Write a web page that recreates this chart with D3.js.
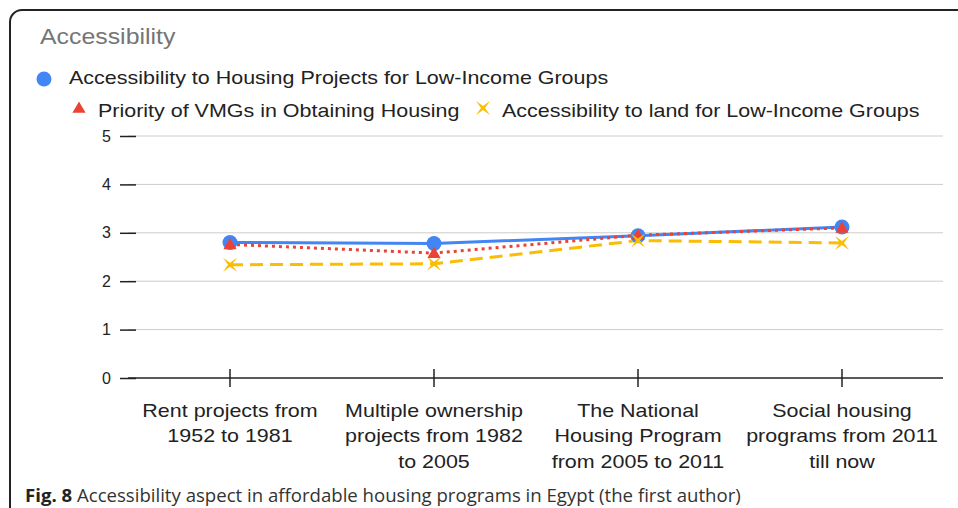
<!DOCTYPE html>
<html><head><meta charset="utf-8">
<script src="https://cdn.jsdelivr.net/npm/d3@7/dist/d3.min.js"></script>
<style>
html,body{margin:0;padding:0;background:#fff;}
svg{display:block;}
</style></head>
<body><svg id="c" width="958" height="508"></svg>
<script>
const title = "Accessibility";
const categories = [
  ["Rent projects from", "1952 to 1981"],
  ["Multiple ownership", "projects from 1982", "to 2005"],
  ["The National", "Housing Program", "from 2005 to 2011"],
  ["Social housing", "programs from 2011", "till now"]
];
const seriesNames = [
  "Accessibility to Housing Projects for Low-Income Groups",
  "Priority of VMGs in Obtaining Housing",
  "Accessibility to land for Low-Income Groups"
];
const housingValues = [2.80, 2.78, 2.94, 3.12];
const vmgValues = [2.76, 2.58, 2.95, 3.10];
const landValues = [2.34, 2.36, 2.84, 2.79];
const yTicks = [0, 1, 2, 3, 4, 5];
const caption = ["Fig. 8", " Accessibility aspect in affordable housing programs in Egypt (the first author)"];

const svg = d3.select("#c");
const font = "'Liberation Sans', Arial, sans-serif";
const SX = 1.13;

function stext(x0, y0, size, fill, str, anchor) {
  return svg.append("text").attr("transform", `translate(${x0},${y0}) scale(${SX},1)`)
    .attr("font-family", font).attr("font-size", size).attr("fill", fill)
    .attr("text-anchor", anchor || "start").text(str);
}

// frame
svg.append("rect").attr("x", 10).attr("y", 10).attr("width", 1000).attr("height", 600)
  .attr("rx", 12).attr("fill", "none").attr("stroke", "#222").attr("stroke-width", 2);

stext(40, 44, 22, "#757575", title);

const x = d3.scaleBand().domain(d3.range(categories.length)).range([128, 944]);
const y = d3.scaleLinear().domain([0, 5]).range([378, 136]);
const cx = i => x(i) + x.bandwidth() / 2;

// grid
svg.append("g").selectAll("line").data(yTicks.filter(t => t > 0)).join("line")
  .attr("x1", 128).attr("x2", 943).attr("y1", d => y(d)).attr("y2", d => y(d))
  .attr("stroke", "#cccccc").attr("stroke-width", 1);

// y axis
const yAxis = d3.axisLeft(y).tickValues(yTicks).tickSize(16).tickPadding(9).tickFormat(d3.format("d"));
const ya = svg.append("g").attr("transform", "translate(136,0)").call(yAxis);
ya.select(".domain").remove();
ya.selectAll("line").attr("stroke", "#222").attr("stroke-width", 1.5);
ya.selectAll("text").attr("font-family", font).attr("font-size", 16).attr("fill", "#222");

// x axis baseline
svg.append("line").attr("x1", 128).attr("x2", 943).attr("y1", y(0)).attr("y2", y(0))
  .attr("stroke", "#222").attr("stroke-width", 1.5);
const xa = svg.append("g");
xa.selectAll("line").data(d3.range(categories.length)).join("line")
  .attr("x1", d => cx(d)).attr("x2", d => cx(d)).attr("y1", y(0) - 9).attr("y2", y(0) + 9)
  .attr("stroke", "#222").attr("stroke-width", 1.5);
categories.forEach((lines, i) => {
  const t = xa.append("text").attr("transform", `translate(${cx(i)},0) scale(${SX},1)`)
    .attr("text-anchor", "middle").attr("font-family", font)
    .attr("font-size", 19).attr("fill", "#222");
  lines.forEach((l, j) => t.append("tspan").attr("x", 0).attr("y", 417 + j * 25.5).text(l));
});

const series = [
  {vals: housingValues, color: "#4285F4", dash: null},
  {vals: vmgValues, color: "#EA4335", dash: "3,4"},
  {vals: landValues, color: "#FBBC04", dash: "13,7"}
];
const line = d3.line().x((d, i) => cx(i)).y(d => y(d));
series.forEach(s => {
  svg.append("path").attr("d", line(s.vals)).attr("fill", "none").attr("stroke", s.color)
    .attr("stroke-width", 3).attr("stroke-dasharray", s.dash);
});
function marker(sel, k, color) {
  if (k === 0) sel.append("circle").attr("r", 7.5).attr("fill", color);
  else if (k === 1) sel.append("path").attr("d", d3.symbol(d3.symbolTriangle, 75)()).attr("transform", "translate(0,1)").attr("fill", color);
  else sel.append("path").attr("d", "M-7,-7 L0,-2 L7,-7 L2,0 L7,7 L0,2 L-7,7 L-2,0 Z").attr("fill", color);
}
series.forEach((s, k) => {
  s.vals.forEach((v, i) => {
    const m = svg.append("g").attr("transform", `translate(${cx(i)},${y(v)})`);
    marker(m, k, s.color);
  });
});

// legend
const lg = [[44, 79, 69, 84], [79, 108, 98, 117], [483, 108, 502, 117]];
seriesNames.forEach((n, k) => {
  const [mx, my, tx, ty] = lg[k];
  const m = svg.append("g").attr("transform", `translate(${mx},${my})`);
  marker(m, k, series[k].color);
  stext(tx, ty, 19, "#222", n);
});

// caption
const ct = svg.append("text").attr("x", 25).attr("y", 502).attr("font-family", "'Open Sans', 'Noto Sans', sans-serif")
  .attr("font-size", 18.6).attr("fill", "#333");
ct.append("tspan").attr("font-weight", "bold").attr("fill", "#222").text(caption[0]);
ct.append("tspan").text(caption[1]);
</script></body></html>
